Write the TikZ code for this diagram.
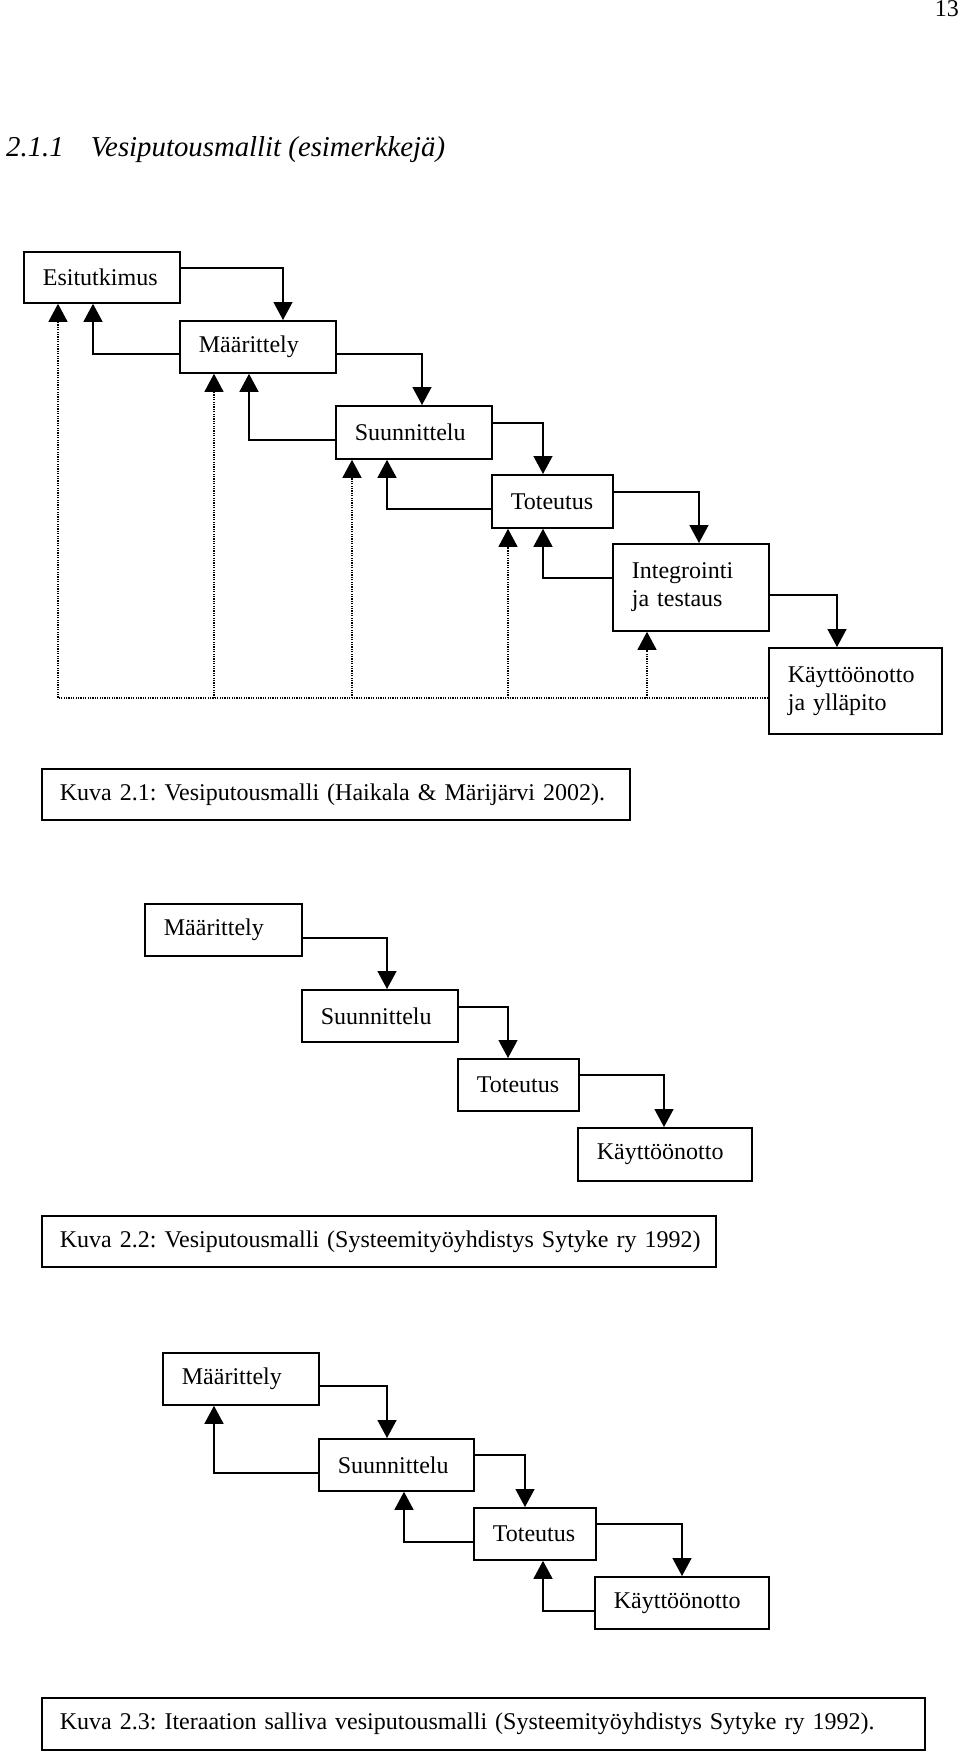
\documentclass[tikz,border=0pt]{standalone}
\usepackage{fontspec}
\setmainfont{Liberation Serif}
\usepackage{tikz}
\usetikzlibrary{arrows.meta}
\frenchspacing
\tikzstyle{stage}  =[draw, line width=1.8pt, anchor=north west, align=left,
                     inner xsep=19pt, inner ysep=0pt]
\tikzstyle{caption}=[stage, inner xsep=18pt, minimum height=51pt]
\tikzstyle{flow}   =[line width=1.4pt, -{Triangle[length=18pt,width=19pt]}]
\tikzstyle{dotflow}=[flow, line width=1.2pt, dash pattern=on 1.2pt off 1.2pt]

\begin{document}
\begin{tikzpicture}[x=1pt, y=-1pt, font=\fontsize{24}{28}\selectfont]
    \useasboundingbox (0,0) rectangle (960,1754);
    \node[anchor=base east, inner sep=0pt] (pnum) at (959,16) {13};
    \node[anchor=base west, inner sep=0pt, font=\fontsize{28.8}{32}\selectfont\itshape]
        (head) at (6,156) {2.1.1\hspace{27pt}Vesiputousmallit (esimerkkejä)};

    % Kuva 2.1
    \node[stage, text width=118pt, minimum height=51pt] (esi)    at (23,251)  {Esitutkimus};
    \node[stage, text width=118pt, minimum height=52pt] (maar)   at (179,320) {Määrittely};
    \node[stage, text width=118pt, minimum height=53pt] (suun)   at (335,405) {Suunnittelu};
    \node[stage, text width=83pt,  minimum height=53pt] (tot)    at (491,474) {Toteutus};
    \node[stage, text width=118pt, minimum height=87pt] (integ)  at (612,543) {Integrointi\\ja testaus};
    \node[stage, text width=135pt, minimum height=86pt] (kaytto) at (768,647) {Käyttöönotto\\ja ylläpito};
    \foreach \a/\b/\y/\x in {esi/maar/268/283, maar/suun/354/422, suun/tot/423/543,
                             tot/integ/492/699, integ/kaytto/595/837}
        \draw[flow] (\a.east |- 0,\y) -| (\x,0 |- \b.north);
    \foreach \a/\b/\y/\x in {maar/esi/354/93, suun/maar/440/249,
                             tot/suun/509/387, integ/tot/578/543}
        \draw[flow] (\a.west |- 0,\y) -| (\x,0 |- \b.south);
    \coordinate (base) at (kaytto.west |- 0,698);
    \draw[dotflow] (base) -| (58,0 |- esi.south);
    \foreach \x/\n in {214/maar, 352/suun, 508/tot, 647/integ}
        \draw[dotflow] (\x,0 |- base) -- (\x,0 |- \n.south);
    \node[caption, text width=552pt] (cap1) at (41,768)
        {\mbox{Kuva 2.1: Vesiputousmalli (Haikala \& Märijärvi 2002).}};

    % Kuva 2.2
    \node[stage, text width=119pt, minimum height=52pt] (maar2) at (144,903)  {Määrittely};
    \node[stage, text width=118pt, minimum height=52pt] (suun2) at (301,989)  {Suunnittelu};
    \node[stage, text width=83pt,  minimum height=52pt] (tot2)  at (457,1058) {Toteutus};
    \node[stage, text width=136pt, minimum height=53pt] (kay2)  at (577,1127) {Käyttöönotto};
    \foreach \a/\b/\y/\x in {maar2/suun2/938/387, suun2/tot2/1007/508, tot2/kay2/1075/664}
        \draw[flow] (\a.east |- 0,\y) -| (\x,0 |- \b.north);
    \node[caption, text width=638pt] (cap2) at (41,1215)
        {\mbox{Kuva 2.2: Vesiputousmalli (Systeemityöyhdistys Sytyke ry 1992)}};

    % Kuva 2.3
    \node[stage, text width=118pt, minimum height=52pt] (maar3) at (162,1352) {Määrittely};
    \node[stage, text width=117pt, minimum height=52pt] (suun3) at (318,1438) {Suunnittelu};
    \node[stage, text width=84pt,  minimum height=52pt] (tot3)  at (473,1507) {Toteutus};
    \node[stage, text width=136pt, minimum height=52pt] (kay3)  at (594,1576) {Käyttöönotto};
    \foreach \a/\b/\y/\x in {maar3/suun3/1386/387, suun3/tot3/1455/525, tot3/kay3/1524/682}
        \draw[flow] (\a.east |- 0,\y) -| (\x,0 |- \b.north);
    \foreach \a/\b/\y/\x in {suun3/maar3/1473/214, tot3/suun3/1542/404, kay3/tot3/1611/543}
        \draw[flow] (\a.west |- 0,\y) -| (\x,0 |- \b.south);
    \node[caption, text width=847pt, minimum height=52pt] (cap3) at (41,1697)
        {\mbox{Kuva 2.3: Iteraation salliva vesiputousmalli (Systeemityöyhdistys Sytyke ry 1992).}};
\end{tikzpicture}
\end{document}
